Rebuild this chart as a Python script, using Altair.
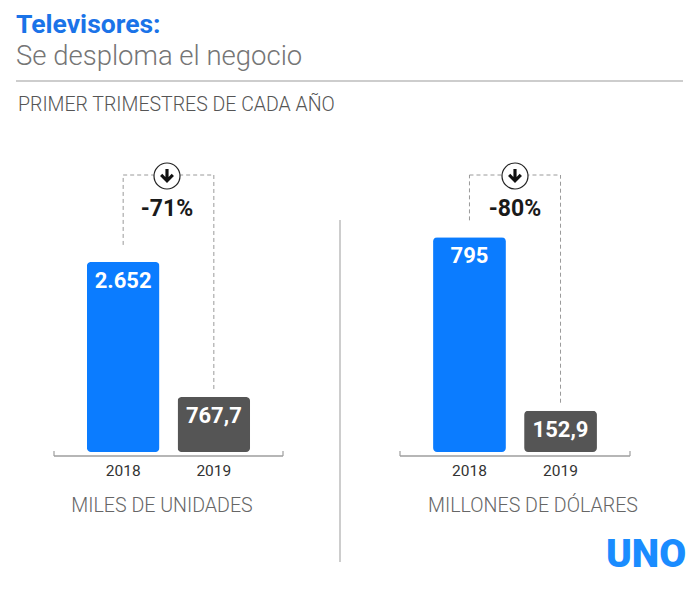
import altair as alt
import pandas as pd

# ---- data ----
years = ["2018", "2019"]
units = [2652, 767.7]
units_labels = ["2.652", "767,7"]
usd = [795, 152.9]
usd_labels = ["795", "152,9"]
changes = ["-71%", "-80%"]
title = "Televisores:"
subtitle = "Se desploma el negocio"
period = "PRIMER TRIMESTRES DE CADA AÑO"
unit_names = ["MILES DE UNIDADES", "MILLONES DE DÓLARES"]
brand = "UNO"

BLUE = "#0B7CFF"
GRAY = "#555555"
DASH = "#9a9a9a"
FONT = "Roboto"
ARROW = "M -0.2 -0.9 L 0.2 -0.9 L 0.2 0.12 L 0.6 -0.28 L 0.88 0 L 0 0.88 L -0.88 0 L -0.6 -0.28 L -0.2 0.12 Z"

one = pd.DataFrame({"k": [0]})


def panel(values, labels, change, unit_name, width, x_range, y_dom, y_rng, mid_x, unit_x, divider=False, logo=False):
    df = pd.DataFrame({"year": years, "value": values, "label": labels})
    xs = alt.Scale(domain=years, range=x_range, paddingInner=0.2, paddingOuter=0.363)
    ys = alt.Scale(domain=y_dom, range=y_rng)
    base = alt.Chart(df).encode(x=alt.X("year:N", scale=xs, axis=None))
    Y = alt.Y("value:Q", scale=ys, axis=None)

    bars = base.mark_bar(cornerRadius=4).encode(
        y=Y,
        color=alt.Color("year:N", scale=alt.Scale(domain=years, range=[BLUE, GRAY]), legend=None),
    )
    vlabels = base.mark_text(dy=19, baseline="middle", fontSize=22, fontWeight="bold",
                             color="white", font=FONT).encode(y=Y, text="label:N")
    br_a = base.transform_filter(alt.datum.year == "2018").mark_rule(
        strokeDash=[4, 3], color=DASH, strokeWidth=1, yOffset=-17).encode(y=Y, y2=alt.value(47))
    br_b = base.transform_filter(alt.datum.year == "2019").mark_rule(
        strokeDash=[4, 3], color=DASH, strokeWidth=1, yOffset=-8).encode(y=Y, y2=alt.value(47))
    br_h = base.mark_line(strokeDash=[4, 3], color=DASH, strokeWidth=1).encode(y=alt.value(47))
    ylabels = base.mark_text(baseline="middle", fontSize=15.5, color="#333333", font=FONT).encode(
        y=alt.value(343), text="year:N")

    x0, x1 = x_range
    o = alt.Chart(one)
    baseline = o.mark_rule(color="#9e9e9e", strokeWidth=1.5).encode(
        x=alt.value(x0), x2=alt.value(x1), y=alt.value(328))
    tick_l = o.mark_rule(color="#9e9e9e", strokeWidth=1.2).encode(
        x=alt.value(x0), y=alt.value(323), y2=alt.value(328))
    tick_r = o.mark_rule(color="#9e9e9e", strokeWidth=1.2).encode(
        x=alt.value(x1), y=alt.value(323), y2=alt.value(328))
    circle = o.mark_point(shape="circle", size=676, filled=True, fill="white", stroke="#222222",
                          strokeWidth=1.2, opacity=1).encode(x=alt.value(mid_x), y=alt.value(48))
    arrow = o.mark_point(shape=ARROW, size=250, filled=True, color="#111111", opacity=1).encode(
        x=alt.value(mid_x), y=alt.value(48))
    pct = o.mark_text(text=change, fontSize=23, fontWeight="bold", color="#1a1a1a", font=FONT,
                      baseline="middle").encode(x=alt.value(mid_x), y=alt.value(81))
    uname = o.mark_text(text=unit_name, fontSize=19.6, fontWeight=300, color="#666666", font=FONT,
                        baseline="middle").encode(x=alt.value(unit_x), y=alt.value(378))

    layers = [bars, vlabels, br_a, br_b, br_h, ylabels, baseline, tick_l, tick_r, circle, arrow, pct, uname]
    if divider:
        layers.append(o.mark_rule(color="#bdbdbd", strokeWidth=1.5).encode(
            x=alt.value(1), y=alt.value(92), y2=alt.value(434)))
    if logo:
        layers.append(o.mark_text(text=brand, fontSize=39, fontWeight=900, color="#1a8cff", font=FONT,
                                  baseline="middle").encode(x=alt.value(307), y=alt.value(427)))
    return alt.layer(*layers).properties(width=width, height=453)


left = panel(units, units_labels, changes[0], unit_names[0], 331, [46, 275], [0, 3000], [324, 109],
             159, 154)
right = panel(usd, usd_labels, changes[1], unit_names[1], 353, [61, 291], [0, 1000], [324, 54],
              176, 194, divider=True, logo=True)

o = alt.Chart(one)
header = alt.layer(
    o.mark_text(text=title, fontSize=26.5, fontWeight="bold", color="#1a73e8", font=FONT,
                align="left", baseline="alphabetic").encode(x=alt.value(8), y=alt.value(25)),
    o.mark_text(text=subtitle, fontSize=27.5, fontWeight=300, color="#757575", font=FONT,
                align="left", baseline="alphabetic").encode(x=alt.value(8), y=alt.value(57)),
    o.mark_rule(color="#bdbdbd", strokeWidth=1.5).encode(x=alt.value(8), x2=alt.value(675), y=alt.value(73)),
    o.mark_text(text=period, fontSize=19.5, fontWeight=300, color="#555555", font=FONT,
                align="left", baseline="alphabetic").encode(x=alt.value(10), y=alt.value(103)),
).properties(width=684, height=120)

chart = alt.vconcat(header, alt.hconcat(left, right, spacing=0), spacing=0).properties(
    padding=0, background="white"
).configure(font=FONT).configure_view(strokeWidth=0, stroke="transparent")

chart.save("out.html", embed_options={"renderer": "svg", "actions": False})
